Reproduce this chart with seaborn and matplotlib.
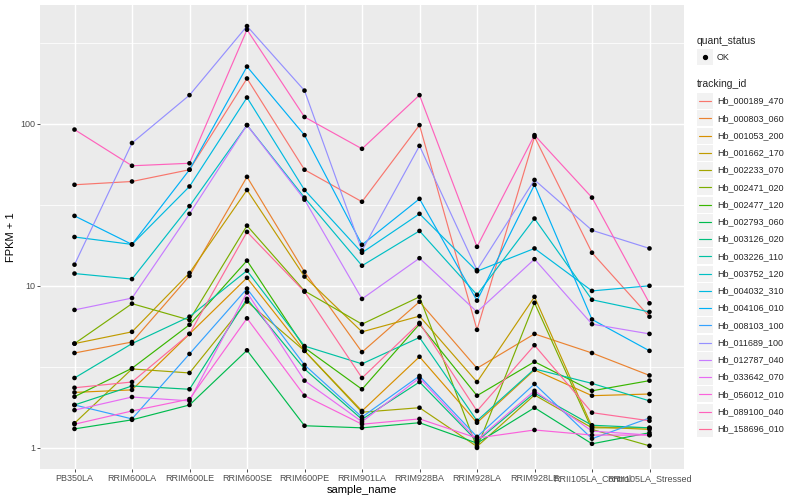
import numpy as np
import pandas as pd
import matplotlib
matplotlib.use("Agg")
import matplotlib.pyplot as plt
import seaborn as sns
from matplotlib.patches import Rectangle
from matplotlib.lines import Line2D

# ---------------- data ----------------
sample_names = ["PB350LA", "RRIM600LA", "RRIM600LE", "RRIM600SE", "RRIM600PE",
                "RRIM901LA", "RRIM928BA", "RRIM928LA", "RRIM928LE",
                "RRII105LA_Control", "RRII105LA_Stressed"]

tracking_ids = ["Hb_000189_470", "Hb_000803_060", "Hb_001053_200", "Hb_001662_170",
                "Hb_002233_070", "Hb_002471_020", "Hb_002477_120", "Hb_002793_060",
                "Hb_003126_020", "Hb_003226_110", "Hb_003752_120", "Hb_004032_310",
                "Hb_004106_010", "Hb_008103_100", "Hb_011689_100", "Hb_012787_040",
                "Hb_033642_070", "Hb_056012_010", "Hb_089100_040", "Hb_158696_010"]

hb_000189_470 = [42, 44, 52, 190, 52, 33, 98, 5.35, 83, 16, 6.45]
hb_000803_060 = [3.85, 4.5, 11.5, 47, 12.2, 3.9, 7.97, 3.1, 5.05, 3.85, 2.8]
hb_001053_200 = [2.2, 2.28, 5.05, 11.2, 3.97, 1.69, 3.65, 1.43, 3.03, 2.1, 2.15]
hb_001662_170 = [4.4, 5.2, 12.0, 39, 11.4, 5.2, 6.5, 2.55, 8.55, 1.35, 1.3]
hb_002233_070 = [1.42, 3.07, 2.9, 8.0, 3.97, 1.66, 1.77, 1.02, 2.12, 1.33, 1.33]
hb_002471_020 = [4.4, 7.76, 6.15, 23.5, 9.3, 5.8, 8.55, 1.0, 7.85, 1.3, 1.03]
hb_002477_120 = [2.07, 3.1, 5.75, 14.3, 4.15, 2.3, 5.8, 2.1, 3.4, 2.25, 2.6]
hb_002793_060 = [1.31, 1.49, 1.84, 4.0, 1.37, 1.33, 1.43, 1.07, 1.77, 1.06, 1.24]
hb_003126_020 = [1.84, 2.41, 2.3, 8.3, 3.07, 1.5, 2.55, 1.1, 2.18, 1.38, 1.33]
hb_003226_110 = [2.7, 4.4, 6.45, 12.4, 4.25, 3.3, 4.8, 1.47, 3.07, 2.5, 1.95]
hb_003752_120 = [11.9, 11.0, 31, 98, 35, 13.3, 21.8, 8.8, 26, 8.2, 6.9]
hb_004032_310 = [20, 18, 41, 145, 39, 16, 27.8, 12.3, 17, 9.3, 10.0]
hb_004106_010 = [27, 18, 52, 225, 85, 17.9, 34.4, 8.1, 42, 6.2, 3.97]
hb_008103_100 = [1.84, 1.51, 3.8, 9.6, 3.25, 1.55, 2.78, 1.17, 2.48, 1.14, 1.53]
hb_011689_100 = [13.5, 76, 150, 400, 160, 16.5, 73, 12.5, 45, 22, 17]
hb_012787_040 = [7.1, 8.4, 27.8, 98, 34, 8.3, 14.8, 6.9, 14.6, 5.8, 5.05]
hb_033642_070 = [1.71, 2.06, 1.95, 9.1, 2.6, 1.45, 2.7, 1.12, 2.25, 1.27, 1.2]
hb_056012_010 = [1.4, 1.69, 2.0, 6.3, 2.1, 1.4, 1.51, 1.15, 1.29, 1.2, 1.2]
hb_089100_040 = [92, 55, 57, 380, 110, 70, 150, 17.4, 85, 35, 7.8]
hb_158696_010 = [2.35, 2.55, 5.05, 21.5, 9.2, 2.7, 5.9, 1.69, 4.3, 1.65, 1.47]

series = [hb_000189_470, hb_000803_060, hb_001053_200, hb_001662_170, hb_002233_070,
          hb_002471_020, hb_002477_120, hb_002793_060, hb_003126_020, hb_003226_110,
          hb_003752_120, hb_004032_310, hb_004106_010, hb_008103_100, hb_011689_100,
          hb_012787_040, hb_033642_070, hb_056012_010, hb_089100_040, hb_158696_010]

rows = []
for tid, vals in zip(tracking_ids, series):
    for si, (s, v) in enumerate(zip(sample_names, vals)):
        rows.append({"tracking_id": tid, "sample_name": s, "xpos": si, "fpkm": v})
df = pd.DataFrame(rows)


# ---------------- ggplot hue palette (HCL) ----------------
def hcl_to_hex(h, c=100.0, l=65.0):
    hr = np.deg2rad(h)
    u, v = c * np.cos(hr), c * np.sin(hr)
    Xn, Yn, Zn = 0.95047, 1.0, 1.08883
    un = 4 * Xn / (Xn + 15 * Yn + 3 * Zn)
    vn = 9 * Yn / (Xn + 15 * Yn + 3 * Zn)
    Y = ((l + 16) / 116) ** 3 if l > 8 else l / 903.3
    up = u / (13 * l) + un
    vp = v / (13 * l) + vn
    X = Y * 9 * up / (4 * vp)
    Z = Y * (12 - 3 * up - 20 * vp) / (4 * vp)
    r = 3.2404542 * X - 1.5371385 * Y - 0.4985314 * Z
    g = -0.9692660 * X + 1.8760108 * Y + 0.0415560 * Z
    b = 0.0556434 * X - 0.2040259 * Y + 1.0572252 * Z
    out = []
    for ch in (r, g, b):
        ch = 12.92 * ch if ch <= 0.0031308 else 1.055 * (max(ch, 0) ** (1 / 2.4)) - 0.055
        out.append(min(max(ch, 0.0), 1.0))
    return matplotlib.colors.to_hex(out)


n = len(tracking_ids)
hues = np.linspace(15, 375, n + 1)[:-1]
colors = [hcl_to_hex(h) for h in hues]
palette = dict(zip(tracking_ids, colors))

# ---------------- plot ----------------
sns.set_theme(style="white")
plt.rcParams["font.family"] = ["Liberation Sans", "DejaVu Sans"]

W, H = 800, 500
fig = plt.figure(figsize=(8, 5), dpi=100)
ax = fig.add_axes([40 / W, 31 / H, 644 / W, 464 / H])
ax.set_facecolor("#EBEBEB")

sns.lineplot(data=df, x="xpos", y="fpkm", hue="tracking_id", palette=palette,
             hue_order=tracking_ids, estimator=None, sort=False, legend=False,
             linewidth=0.85, ax=ax, zorder=2)
sns.scatterplot(data=df, x="xpos", y="fpkm", color="black", s=11, edgecolor="none",
                legend=False, ax=ax, zorder=3)

ax.set_yscale("log")
lo, hi = np.log10(df["fpkm"].min()), np.log10(df["fpkm"].max())
pad = 0.05 * (hi - lo)
ax.set_ylim(10 ** (lo - pad), 10 ** (hi + pad))
ax.set_xlim(-0.6, len(sample_names) - 0.4)

ax.set_yticks([1, 10, 100])
ax.set_yticklabels(["1", "10", "100"])
ax.set_yticks([10 ** 0.5, 10 ** 1.5, 10 ** 2.5], minor=True)
ax.yaxis.set_minor_formatter(matplotlib.ticker.NullFormatter())
ax.set_xticks(range(len(sample_names)))
ax.set_xticklabels(sample_names)

ax.grid(which="major", color="white", linewidth=1.07)
ax.grid(which="minor", axis="y", color="white", linewidth=0.55)
ax.set_axisbelow(True)
for sp in ax.spines.values():
    sp.set_visible(False)
ax.tick_params(which="major", length=2.2, width=0.6, color="#333333",
               labelsize=6.5, labelcolor="#4D4D4D", pad=1.5)
ax.tick_params(which="minor", length=0)
ax.tick_params(axis="x", bottom=True)
ax.tick_params(axis="y", left=True)

ax.set_xlabel("sample_name", fontsize=8, color="black", labelpad=1)
ax.set_ylabel("FPKM + 1", fontsize=8, color="black", labelpad=3)


# ---------------- legend (ggplot style) ----------------
def fx(px):
    return px / W


def fy(py):
    return 1 - py / H


fig.text(fx(697), fy(41), "quant_status", fontsize=7.5, va="center", ha="left")
fig.add_artist(Rectangle((fx(697), fy(65)), 16 / W, 16 / H, transform=fig.transFigure,
                         facecolor="#F2F2F2", edgecolor="none"))
fig.add_artist(Line2D([fx(705)], [fy(57)], marker="o", markersize=2.8, color="black",
                      linestyle="none", transform=fig.transFigure))
fig.text(fx(717), fy(57), "OK", fontsize=6.5, va="center", ha="left")

fig.text(fx(697), fy(84), "tracking_id", fontsize=7.5, va="center", ha="left")
y0, dy = 101.0, 17.26
for i, (tid, col) in enumerate(zip(tracking_ids, colors)):
    yc = y0 + i * dy
    fig.add_artist(Rectangle((fx(697), fy(yc + 8)), 16 / W, 16 / H,
                             transform=fig.transFigure, facecolor="#F2F2F2",
                             edgecolor="none"))
    fig.add_artist(Line2D([fx(699), fx(711)], [fy(yc), fy(yc)], color=col,
                          linewidth=0.85, transform=fig.transFigure))
    fig.text(fx(717), fy(yc), tid, fontsize=6.5, va="center", ha="left")

fig.savefig("out.png", dpi=100)
